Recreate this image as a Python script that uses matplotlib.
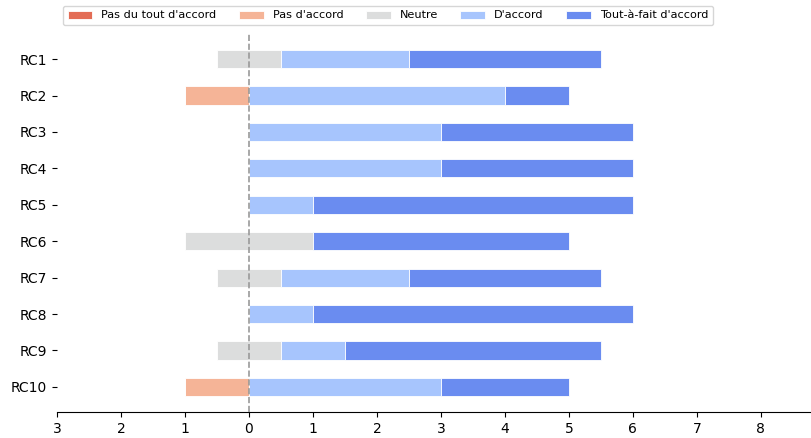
import matplotlib
matplotlib.use('Agg')
import matplotlib.pyplot as plt
import numpy as np

questions = ['RC1', 'RC2', 'RC3', 'RC4', 'RC5', 'RC6', 'RC7', 'RC8', 'RC9', 'RC10']
categories = ["Pas du tout d'accord", "Pas d'accord", 'Neutre', "D'accord", 'Tout-à-fait d\'accord']
colors = ['#e36c55', '#f5b497', '#dcdddd', '#a7c5fd', '#6a8cf0']

pas_du_tout = np.array([0, 0, 0, 0, 0, 0, 0, 0, 0, 0])
pas_accord = np.array([0, 1, 0, 0, 0, 0, 0, 0, 0, 1])
neutre = np.array([1, 0, 0, 0, 0, 2, 1, 0, 1, 0])
accord = np.array([2, 4, 3, 3, 1, 0, 2, 1, 1, 3])
tout_a_fait = np.array([3, 1, 3, 3, 5, 4, 3, 5, 4, 2])

fig = plt.figure(figsize=(8.12, 4.38), dpi=100)
ax = fig.add_axes([57 / 812, 26 / 438, 755 / 812, 378 / 438])

y = np.arange(len(questions))
h = 0.5
edge = dict(edgecolor='white', linewidth=0.6, height=h)

# negative side
left = -neutre / 2.0
ax.barh(y, -pas_accord, left=left, color=colors[1], label=categories[1], **edge)
left = left - pas_accord
ax.barh(y, -pas_du_tout, left=left, color=colors[0], label=categories[0], **edge)

# neutral split around zero, then positive side
ax.barh(y, neutre, left=-neutre / 2.0, color=colors[2], label=categories[2], **edge)
start = neutre / 2.0
ax.barh(y, accord, left=start, color=colors[3], label=categories[3], **edge)
start = start + accord
ax.barh(y, tout_a_fait, left=start, color=colors[4], label=categories[4], **edge)

ax.axvline(0, color='#999999', linestyle='--', linewidth=1.2, zorder=3)

ax.set_yticks(y)
ax.set_yticklabels(questions, fontsize=10)
ax.invert_yaxis()
ax.set_xlim(-3, 8.8)
ax.set_ylim(len(questions) - 1 + 0.69, -0.69)
ticks = np.arange(-3, 9)
ax.set_xticks(ticks)
ax.set_xticklabels([str(abs(t)) for t in ticks], fontsize=10)

for s in ['top', 'right', 'left']:
    ax.spines[s].set_visible(False)

handles, labels = ax.get_legend_handles_labels()
order = [labels.index(c) for c in categories]
fig.legend([handles[i] for i in order], [labels[i] for i in order],
           loc='center', bbox_to_anchor=(388 / 812, 1 - 15.5 / 438),
           ncol=5, fontsize=8.1, frameon=True, handlelength=2.2,
           columnspacing=2.0, borderpad=0.4)

plt.savefig('out.png', dpi=100)
